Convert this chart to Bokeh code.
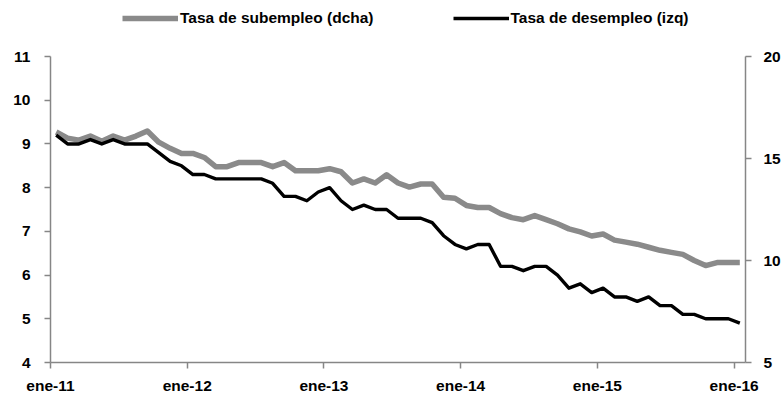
from bokeh.plotting import figure
from bokeh.models import Range1d, LinearAxis, Legend, LegendItem, FixedTicker
from bokeh.embed import file_html
from bokeh.resources import INLINE
import numpy as np

# ---- data ----
tick_meses = [0, 12, 24, 36, 48, 60]
tick_etiquetas = ["ene-11", "ene-12", "ene-13", "ene-14", "ene-15", "ene-16"]
izq_ticks = [4, 5, 6, 7, 8, 9, 10, 11]
dcha_ticks = [5, 10, 15, 20]

# Tasa de desempleo (izq), monthly ene-11 .. ene-16
desempleo = [9.2, 9.0, 9.0, 9.1, 9.0, 9.1, 9.0, 9.0, 9.0, 8.8,
             8.6, 8.5, 8.3, 8.3, 8.2, 8.2, 8.2, 8.2, 8.2, 8.1,
             7.8, 7.8, 7.7, 7.9, 8.0, 7.7, 7.5, 7.6, 7.5, 7.5,
             7.3, 7.3, 7.3, 7.2, 6.9, 6.7, 6.6, 6.7, 6.7, 6.2,
             6.2, 6.1, 6.2, 6.2, 6.0, 5.7, 5.8, 5.6, 5.7, 5.5,
             5.5, 5.4, 5.5, 5.3, 5.3, 5.1, 5.1, 5.0, 5.0, 5.0,
             4.9]

# Tasa de subempleo (dcha)
subempleo = [16.3, 16.0, 15.9, 16.1, 15.85, 16.1, 15.9, 16.1, 16.35, 15.8,
             15.5, 15.25, 15.25, 15.05, 14.6, 14.6, 14.8, 14.8, 14.8, 14.6,
             14.8, 14.4, 14.4, 14.4, 14.5, 14.35, 13.8, 14.0, 13.8, 14.2,
             13.8, 13.6, 13.75, 13.75, 13.1, 13.05, 12.7, 12.6, 12.6, 12.3,
             12.1, 12.0, 12.2, 12.0, 11.8, 11.55, 11.4, 11.2, 11.3, 11.0,
             10.9, 10.8, 10.65, 10.5, 10.4, 10.3, 10.0, 9.75, 9.9, 9.9,
             9.9]

FONT = "Liberation Sans"
AXIS_COLOR = "#868686"

# plot frame spans the full height; axes are bounded to their value ranges
FRAME_H = 362
AXIS_H = 306
izq_lo, izq_hi = 4, 11
dcha_lo, dcha_hi = 5, 20
izq_top = izq_lo + (izq_hi - izq_lo) * FRAME_H / AXIS_H
dcha_top = dcha_lo + (dcha_hi - dcha_lo) * FRAME_H / AXIS_H

x = np.arange(len(desempleo)) + 0.5

p = figure(frame_width=695, frame_height=FRAME_H,
           x_range=Range1d(0, 61), y_range=Range1d(izq_lo, izq_top),
           output_backend="svg", toolbar_location=None,
           min_border_left=50, min_border_top=0,
           min_border_right=39, min_border_bottom=38)
p.extra_y_ranges = {"dcha": Range1d(dcha_lo, dcha_top)}
p.outline_line_color = None
p.xgrid.visible = False
p.ygrid.visible = False
p.background_fill_color = "white"
p.border_fill_color = "white"

r_sub = p.line(x, subempleo, y_range_name="dcha", line_color="#8a8a8a",
               line_width=5.5, line_join="round")
r_des = p.line(x, desempleo, line_color="black", line_width=3.4,
               line_join="round")

right = LinearAxis(y_range_name="dcha")
p.add_layout(right, "right")

for ax in [p.xaxis[0], p.yaxis[0], right]:
    ax.axis_line_color = AXIS_COLOR
    ax.axis_line_width = 1.5
    ax.major_tick_line_color = AXIS_COLOR
    ax.major_tick_line_width = 1.5
    ax.major_tick_out = 6
    ax.major_tick_in = 0
    ax.minor_tick_line_color = None
    ax.major_label_text_font = FONT
    ax.major_label_text_font_style = "bold"
    ax.major_label_text_font_size = "15.5px"
    ax.major_label_text_color = "black"

p.xaxis[0].ticker = FixedTicker(ticks=tick_meses)
p.xaxis[0].major_label_overrides = {m: t for m, t in zip(tick_meses, tick_etiquetas)}
p.xaxis[0].major_label_standoff = 8
p.yaxis[0].ticker = FixedTicker(ticks=izq_ticks)
p.yaxis[0].bounds = (izq_lo, izq_hi)
p.yaxis[0].major_label_standoff = 14
right.ticker = FixedTicker(ticks=dcha_ticks)
right.bounds = (dcha_lo, dcha_hi)
right.major_label_standoff = 12

legend = Legend(items=[LegendItem(label="Tasa de subempleo (dcha)", renderers=[r_sub]),
                       LegendItem(label="Tasa de desempleo (izq)", renderers=[r_des])],
                orientation="horizontal", location=(72, FRAME_H - 28),
                glyph_width=56, glyph_height=20, label_height=20,
                label_standoff=2, spacing=79, padding=0, margin=0,
                border_line_color=None, background_fill_alpha=0,
                label_text_font=FONT, label_text_font_style="bold",
                label_text_font_size="15.5px", label_text_color="black")
p.add_layout(legend)

open("out.html", "w").write(file_html(p, INLINE))
